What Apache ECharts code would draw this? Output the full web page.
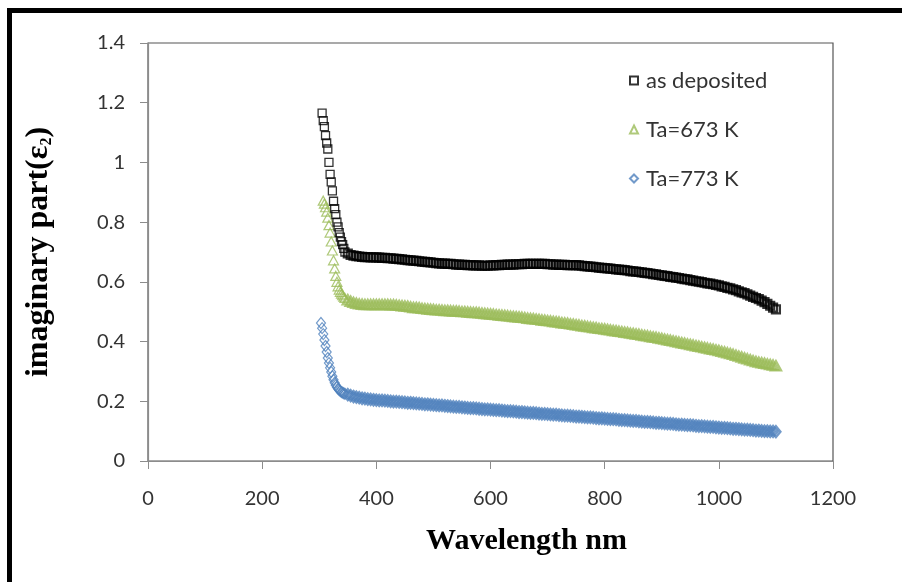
<!DOCTYPE html>
<html>
<head>
<meta charset="utf-8">
<script src="https://cdn.jsdelivr.net/npm/echarts@6/dist/echarts.min.js"></script>
<style>
html,body{margin:0;padding:0;background:#fff;}
#chart{width:902px;height:582px;}
</style>
</head>
<body>
<div id="chart"></div>
<script>
// Wavelength (nm): 2 nm steps at the absorption edge, then 5 nm steps
var wavelength = [
  303,305,307,309,311,313,315,317,319,321,323,325,327,329,331,333,335,337,339,341,343,345,
  350,355,360,365,370,375,380,385,390,395,
  400,405,410,415,420,425,430,435,440,445,
  450,455,460,465,470,475,480,485,490,495,
  500,505,510,515,520,525,530,535,540,545,
  550,555,560,565,570,575,580,585,590,595,
  600,605,610,615,620,625,630,635,640,645,
  650,655,660,665,670,675,680,685,690,695,
  700,705,710,715,720,725,730,735,740,745,
  750,755,760,765,770,775,780,785,790,795,
  800,805,810,815,820,825,830,835,840,845,
  850,855,860,865,870,875,880,885,890,895,
  900,905,910,915,920,925,930,935,940,945,
  950,955,960,965,970,975,980,985,990,995,
  1000,1005,1010,1015,1020,1025,1030,1035,1040,1045,
  1050,1055,1060,1065,1070,1075,1080,1085,1090,1095,
  1100
];

var asDeposited = [
  null,1.165,1.14,1.12,1.09,1.065,1.045,1.0,0.96,0.935,0.905,0.87,0.845,0.825,0.8,0.784,0.765,0.75,0.735,0.725,0.712,0.70,
  0.695,0.69,0.688,0.686,0.685,0.684,0.683,0.683,0.682,0.682,
  0.682,0.681,0.68,0.68,0.679,0.679,0.678,0.677,0.676,0.675,
  0.674,0.673,0.672,0.671,0.67,0.669,0.668,0.667,0.666,0.665,
  0.664,0.663,0.662,0.661,0.661,0.66,0.66,0.659,0.658,0.658,
  0.657,0.657,0.656,0.656,0.655,0.655,0.655,0.654,0.654,0.654,
  0.655,0.655,0.656,0.656,0.657,0.657,0.658,0.658,0.658,0.659,
  0.659,0.659,0.66,0.66,0.66,0.66,0.66,0.66,0.66,0.66,
  0.659,0.659,0.658,0.658,0.657,0.657,0.657,0.656,0.656,0.656,
  0.656,0.655,0.654,0.653,0.652,0.651,0.65,0.649,0.648,0.647,
  0.646,0.645,0.644,0.643,0.642,0.641,0.64,0.639,0.638,0.636,
  0.635,0.634,0.633,0.632,0.63,0.629,0.628,0.626,0.625,0.623,
  0.622,0.62,0.619,0.617,0.616,0.614,0.613,0.611,0.609,0.608,
  0.606,0.604,0.602,0.601,0.599,0.597,0.595,0.594,0.592,0.59,
  0.588,0.585,0.583,0.58,0.578,0.575,0.572,0.568,0.565,0.562,
  0.558,0.554,0.55,0.546,0.542,0.537,0.532,0.526,0.52,0.514,
  0.508
];

var ta673 = [
  null,null,0.872,0.862,0.85,0.835,0.815,0.79,0.765,0.735,0.705,0.672,0.645,0.62,0.6,0.585,0.574,0.566,0.56,0.555,0.55,0.546,
  0.54,0.535,0.531,0.528,0.526,0.525,0.524,0.524,0.524,0.524,
  0.524,0.524,0.524,0.524,0.524,0.523,0.523,0.522,0.521,0.52,
  0.519,0.518,0.516,0.514,0.514,0.513,0.511,0.51,0.509,0.508,
  0.507,0.506,0.506,0.505,0.504,0.504,0.503,0.502,0.502,0.501,
  0.5,0.5,0.499,0.498,0.497,0.497,0.496,0.495,0.494,0.493,
  0.492,0.491,0.49,0.489,0.488,0.487,0.486,0.485,0.484,0.483,
  0.482,0.481,0.48,0.478,0.477,0.476,0.475,0.474,0.472,0.471,
  0.47,0.469,0.467,0.466,0.465,0.463,0.462,0.461,0.459,0.458,
  0.456,0.455,0.453,0.452,0.45,0.449,0.447,0.446,0.444,0.443,
  0.442,0.44,0.439,0.437,0.436,0.434,0.433,0.431,0.43,0.428,
  0.427,0.425,0.424,0.422,0.42,0.419,0.417,0.415,0.414,0.412,
  0.41,0.408,0.406,0.404,0.402,0.4,0.398,0.396,0.394,0.392,
  0.39,0.388,0.386,0.384,0.382,0.38,0.378,0.376,0.374,0.372,
  0.37,0.367,0.365,0.362,0.36,0.357,0.354,0.351,0.348,0.345,
  0.342,0.339,0.336,0.333,0.331,0.329,0.327,0.325,0.323,0.321,
  0.319
];

var ta773 = [
  0.462,0.445,0.425,0.405,0.385,0.365,0.345,0.328,0.312,0.298,0.284,0.272,0.262,0.254,0.247,0.242,0.238,0.234,0.231,0.229,0.227,0.225,
  0.222,0.219,0.216,0.214,0.212,0.21,0.209,0.207,0.206,0.205,
  0.204,0.203,0.203,0.202,0.201,0.2,0.199,0.199,0.198,0.197,
  0.196,0.195,0.195,0.194,0.193,0.192,0.191,0.19,0.19,0.189,
  0.188,0.187,0.186,0.186,0.185,0.184,0.183,0.182,0.181,0.181,
  0.18,0.179,0.178,0.177,0.177,0.176,0.175,0.174,0.173,0.173,
  0.172,0.171,0.17,0.17,0.169,0.168,0.167,0.167,0.166,0.165,
  0.164,0.164,0.163,0.162,0.161,0.161,0.16,0.159,0.158,0.158,
  0.157,0.156,0.155,0.155,0.154,0.153,0.152,0.152,0.151,0.15,
  0.149,0.149,0.148,0.147,0.146,0.146,0.145,0.144,0.143,0.143,
  0.142,0.141,0.14,0.14,0.139,0.138,0.137,0.137,0.136,0.135,
  0.134,0.134,0.133,0.132,0.131,0.131,0.13,0.129,0.128,0.128,
  0.127,0.126,0.125,0.125,0.124,0.123,0.122,0.122,0.121,0.12,
  0.12,0.119,0.118,0.117,0.117,0.116,0.115,0.114,0.114,0.113,
  0.112,0.111,0.111,0.11,0.109,0.108,0.108,0.107,0.106,0.105,
  0.105,0.104,0.103,0.102,0.102,0.101,0.1,0.1,0.099,0.099,
  0.098
];

var seriesNames = ['as deposited', 'Ta=673 K', 'Ta=773 K'];

// Points on the steep absorption edge are sparse (thin outlines);
// the dense plateau points overlap into a solid band.
var EDGE_END = 22;
function pairs(vals, bandStyle) {
  var out = [];
  for (var i = 0; i < wavelength.length; i++) {
    if (vals[i] === null || vals[i] === undefined) continue;
    var item = {value: [wavelength[i], vals[i]]};
    if (i >= EDGE_END) item.itemStyle = bandStyle;
    out.push(item);
  }
  return out;
}

var labelFont = 'Lato, "Open Sans", sans-serif';
var titleFont = '"Liberation Serif", "Times New Roman", serif';
var chart = echarts.init(document.getElementById('chart'), null, {renderer: 'canvas'});

chart.setOption({
  animation: false,
  backgroundColor: '#ffffff',
  grid: {
    left: 148, right: 69, top: 43, bottom: 121,
    show: true, borderColor: '#555555', borderWidth: 1.2, backgroundColor: 'transparent'
  },
  legend: {
    orient: 'vertical',
    left: 624, top: 64,
    itemWidth: 8, itemHeight: 8,
    itemGap: 26,
    textStyle: {fontFamily: labelFont, fontSize: 22, color: '#333333', lineHeight: 23, padding: [0,0,0,3]},
    data: [
      {name: seriesNames[0], icon: 'rect'},
      {name: seriesNames[1], icon: 'triangle'},
      {name: seriesNames[2], icon: 'diamond'}
    ]
  },
  xAxis: {
    type: 'value', min: 0, max: 1200, interval: 200,
    name: 'Wavelength nm',
    nameLocation: 'middle', nameGap: 65,
    nameTextStyle: {fontFamily: titleFont, fontWeight: 'bold', fontSize: 30, color: '#000', padding: [0,0,0,72]},
    axisLine: {show: true, onZero: false, lineStyle: {color: '#8c8c8c', width: 1.2}},
    axisTick: {show: true, inside: false, length: 8, lineStyle: {color: '#8c8c8c'}},
    axisLabel: {fontFamily: labelFont, fontSize: 20, color: '#333333', margin: 28,
      formatter: function (v) { return String(v); }},
    splitLine: {show: false}
  },
  yAxis: {
    type: 'value', min: 0, max: 1.4, interval: 0.2,
    name: 'imaginary part(ε{sub|2})',
    nameLocation: 'middle', nameGap: 93, nameRotate: 90,
    nameTextStyle: {
      fontFamily: titleFont, fontWeight: 'bold', fontSize: 32, color: '#000',
      rich: {sub: {fontFamily: titleFont, fontSize: 16, fontWeight: 'bold', verticalAlign: 'bottom', padding: [15,0,0,0]}}
    },
    axisLine: {show: true, onZero: false, lineStyle: {color: '#8c8c8c', width: 1.2}},
    axisTick: {show: true, inside: false, length: 8, lineStyle: {color: '#8c8c8c'}},
    axisLabel: {fontFamily: labelFont, fontSize: 20, color: '#333333', margin: 23,
      formatter: function (v) { return String(Math.round(v * 10) / 10); }},
    splitLine: {show: false}
  },
  series: [
    {
      name: seriesNames[0], type: 'scatter', symbol: 'rect', symbolSize: 8,
      itemStyle: {color: 'rgba(255,255,255,0)', borderColor: '#000000', borderWidth: 1.3},
      data: pairs(asDeposited, {borderWidth: 2.2}), z: 3
    },
    {
      name: seriesNames[1], type: 'scatter', symbol: 'triangle', symbolSize: [10, 9],
      itemStyle: {color: 'rgba(255,255,255,0)', borderColor: '#9BBB59', borderWidth: 1.2},
      data: pairs(ta673, {borderWidth: 2.4}), z: 2
    },
    {
      name: seriesNames[2], type: 'scatter', symbol: 'diamond', symbolSize: [9, 11],
      itemStyle: {color: 'rgba(255,255,255,0)', borderColor: '#4F81BD', borderWidth: 1.2},
      data: pairs(ta773, {borderWidth: 2.4}), z: 2
    }
  ],
  graphic: [
    {type: 'rect', shape: {x: 7, y: 8, width: 5, height: 574}, style: {fill: '#000'}},
    {type: 'rect', shape: {x: 7, y: 8, width: 895, height: 5}, style: {fill: '#000'}}
  ]
});
</script>
</body>
</html>
